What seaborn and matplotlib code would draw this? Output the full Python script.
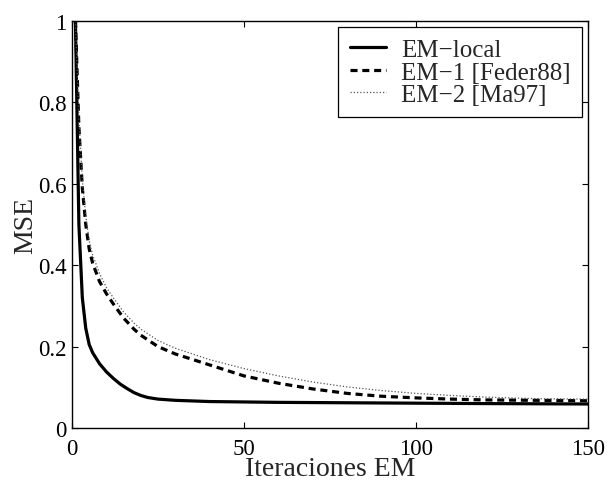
import matplotlib
matplotlib.use("Agg")
import matplotlib.pyplot as plt
import seaborn as sns
import pandas as pd

# MSE versus EM iteration for three EM variants
local_iter = [1, 2, 3, 4, 5, 6, 8, 10, 12, 14, 16, 18, 20, 22, 25, 30, 40, 50, 60, 80, 100, 120, 150]
local_mse = [1.0, 0.50, 0.32, 0.245, 0.205, 0.185, 0.158, 0.138, 0.122, 0.108, 0.097, 0.087,
             0.080, 0.075, 0.071, 0.068, 0.065, 0.064, 0.063, 0.062, 0.061, 0.060, 0.059]

em1_iter = [1, 2, 3, 4, 5, 6, 8, 10, 12, 15, 18, 20, 25, 30, 40, 50, 60, 70, 80, 90, 100, 110, 120, 135, 150]
em1_mse = [1.0, 0.74, 0.59, 0.50, 0.44, 0.405, 0.36, 0.33, 0.305, 0.27, 0.243, 0.228, 0.20,
           0.182, 0.155, 0.128, 0.110, 0.096, 0.085, 0.078, 0.074, 0.071, 0.069, 0.068, 0.067]

em2_iter = [1, 2, 3, 4, 5, 6, 8, 10, 12, 15, 18, 20, 25, 30, 40, 50, 60, 70, 80, 90, 100, 110, 120, 135, 150]
em2_mse = [1.0, 0.76, 0.61, 0.52, 0.46, 0.425, 0.38, 0.345, 0.32, 0.285, 0.258, 0.243, 0.215,
           0.196, 0.168, 0.146, 0.128, 0.113, 0.101, 0.092, 0.085, 0.080, 0.076, 0.072, 0.071]

labels = ["EM\u2212local", "EM\u22121 [Feder88]", "EM\u22122 [Ma97]"]
x_ticks = [0, 50, 100, 150]
y_ticks = [0, 0.2, 0.4, 0.6, 0.8, 1]
y_tick_labels = ["0", "0.2", "0.4", "0.6", "0.8", "1"]

sns.set_style("ticks")
plt.rcParams["font.family"] = ["Liberation Serif", "DejaVu Serif"]

fig = plt.figure(figsize=(6.09, 4.81), dpi=100)
ax = fig.add_axes([72 / 609, 52 / 481, 516 / 609, 407 / 481])

df_local = pd.DataFrame({"it": local_iter, "mse": local_mse})
df_em1 = pd.DataFrame({"it": em1_iter, "mse": em1_mse})
df_em2 = pd.DataFrame({"it": em2_iter, "mse": em2_mse})

sns.lineplot(data=df_local, x="it", y="mse", ax=ax, color="black", lw=2.3,
             label=labels[0])
sns.lineplot(data=df_em1, x="it", y="mse", ax=ax, color="black", lw=2.3,
             linestyle=(0, (2.2, 1.5)), label=labels[1])
sns.lineplot(data=df_em2, x="it", y="mse", ax=ax, color="#555555", lw=0.9,
             linestyle=(0, (1, 1.6)), label=labels[2])

ax.set_xlim(0, 150)
ax.set_ylim(0, 1)
ax.set_xticks(x_ticks)
ax.set_yticks(y_ticks)
ax.set_yticklabels(y_tick_labels)
ax.tick_params(direction="in", length=4, width=0.8, top=True, right=True,
               labelsize=16.5, colors="black")
ax.tick_params(axis="x", pad=7)
ax.tick_params(axis="y", pad=4)
for s in ax.spines.values():
    s.set_visible(True)
    s.set_color("black")
    s.set_linewidth(1.0)

ax.set_xlabel("Iteraciones EM", fontsize=20, labelpad=-2)
ax.set_ylabel("MSE", fontsize=20, labelpad=0)

leg = ax.legend(loc="upper right", fontsize=18, frameon=True, fancybox=False,
                shadow=False, borderpad=0.45, labelspacing=0.0,
                handlelength=1.45, handletextpad=0.6, borderaxespad=0.25)
leg.get_frame().set_edgecolor("black")
leg.get_frame().set_linewidth(0.9)
leg.get_frame().set_facecolor("white")
leg.get_frame().set_alpha(1)

fig.savefig("out.png", dpi=100)
